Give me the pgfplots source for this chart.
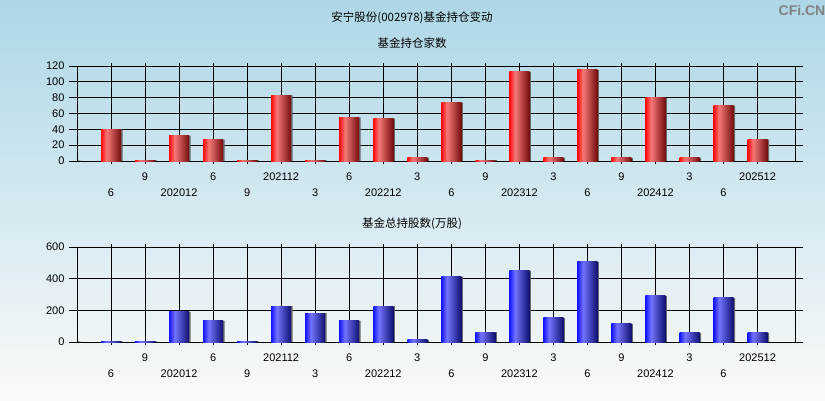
\documentclass[border=0pt]{standalone}
\usepackage{fontspec}
\setmainfont{Liberation Sans}
\newfontfamily\cjk{Noto Sans CJK SC}
\usepackage{pgfplots}
\usepackage{pgfplotstable}
\pgfplotsset{compat=1.18}

\definecolor{bgtop}{RGB}{173,215,230}
\definecolor{bgbot}{RGB}{250,250,250}
\definecolor{rbase}{RGB}{255,10,10}
\definecolor{rhi}{RGB}{245,120,120}
\definecolor{rdark}{RGB}{115,12,12}
\definecolor{bbase}{RGB}{20,20,255}
\definecolor{bhi}{RGB}{115,115,255}
\definecolor{bdark}{RGB}{15,15,110}
\definecolor{shadow}{RGB}{105,105,110}
\definecolor{mark}{RGB}{130,130,130}

% tikz maps 25bp..75bp of a shading onto the path
\pgfdeclarehorizontalshading{redbar}{100bp}{color(0bp)=(rbase); color(25bp)=(rbase);
  color(39bp)=(rhi); color(75bp)=(rdark); color(100bp)=(rdark)}
\pgfdeclarehorizontalshading{bluebar}{100bp}{color(0bp)=(bbase); color(25bp)=(bbase);
  color(39bp)=(bhi); color(75bp)=(bdark); color(100bp)=(bdark)}

% x: 202006 ... 202512 (20 reports)
\pgfplotstableread{
x  funds  shares
0  40     6
1  1      6
2  32     190
3  27     133
4  1      6
5  83     227
6  1      183
7  55     133
8  54     227
9  4      13
10 74     413
11 1      63
12 113    451
13 4      152
14 115    508
15 4      114
16 80     291
17 4      57
18 70     279
19 27     57
}\data

\pgfplotsset{
  panel/.style={
    scale only axis, width=718pt, height=95pt,
    xmin=-1, xmax=20.1, ymin=0,
    axis line style={black, line width=0.9pt},
    grid=major, grid style={black, line width=0.9pt},
    tick style={black, line width=0.9pt},
    tick align=outside,
    major tick length=3pt,
    tick label style={font=\fontsize{11}{13}\selectfont, /pgf/number format/assume math mode=true},
    xtick={1,3,...,19},
    extra x ticks={0,2,...,18},
    extra x tick style={grid=major, xticklabel style={yshift=-16pt}},
    xticklabel style={anchor=base, yshift=-16pt},
    xticklabels={9,6,202112,6,3,9,3,9,3,202512},
    extra x tick labels={6,202012,9,3,202212,6,202312,6,202412,6},
    ytick=\empty,
    extra y tick style={grid=major, major tick length=8pt, yticklabel style={xshift=-1pt}},
  },
  bar/.style={ybar, bar width=20pt, bar shift=0pt, draw=none},
}

\begin{document}
\begin{tikzpicture}[x=1pt,y=1pt]
\useasboundingbox (0,0) rectangle (825,400);
\shade[top color=bgtop, bottom color=bgbot] (0,0) rectangle (825,400);

\node[font=\cjk\fontsize{11.5}{13}\selectfont] at (412,382) {安宁股份(002978)基金持仓变动};
\node[font=\cjk\fontsize{11.5}{13}\selectfont] at (412,357) {基金持仓家数};
\node[font=\cjk\fontsize{11.5}{13}\selectfont] at (412,176) {基金总持股数(万股)};
\node[font=\bfseries\fontsize{14}{16}\selectfont, text=mark] at (802,390) {CFi.CN};

\begin{axis}[panel, at={(77pt,239pt)}, anchor=south west,
  ymax=120, extra y ticks={0,20,...,120}]
\addplot[bar, bar shift=1.5pt, fill=shadow] table[x=x, y=funds] {\data};
% one plot per bar so that each bar gets its own shading
\pgfplotsinvokeforeach{0,...,19}{
  \addplot[bar, shade, shading=redbar, restrict x to domain=#1:#1]
    table[x=x, y=funds] {\data};
}
\draw[black, line width=0.9pt] (axis cs:-1,0) -- ++(0,-3pt) (axis cs:20.1,0) -- ++(0,-3pt);
\end{axis}

\begin{axis}[panel, at={(77pt,58pt)}, anchor=south west,
  ymax=600, extra y ticks={0,200,...,600}]
\addplot[bar, bar shift=1.5pt, fill=shadow] table[x=x, y=shares] {\data};
\pgfplotsinvokeforeach{0,...,19}{
  \addplot[bar, shade, shading=bluebar, restrict x to domain=#1:#1]
    table[x=x, y=shares] {\data};
}
\draw[black, line width=0.9pt] (axis cs:-1,0) -- ++(0,-3pt) (axis cs:20.1,0) -- ++(0,-3pt);
\end{axis}
\end{tikzpicture}
\end{document}
